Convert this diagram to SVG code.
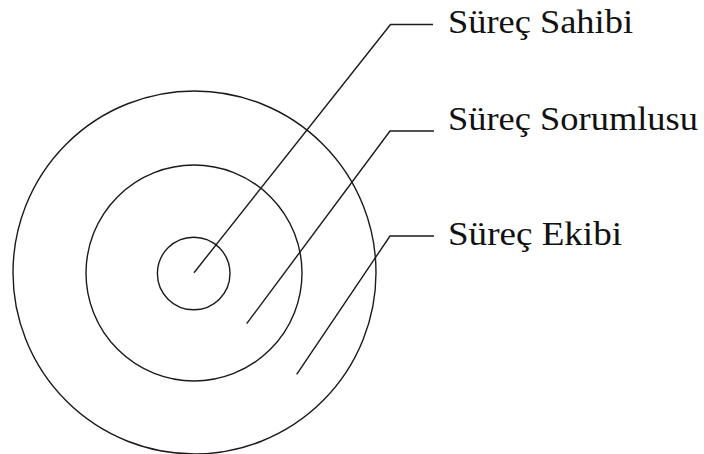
<svg xmlns="http://www.w3.org/2000/svg" width="704" height="454" viewBox="0 0 704 454">
<style>
.ring{fill:none;stroke:#1a1a1a;stroke-width:1.4}
.lead{fill:none;stroke:#1a1a1a;stroke-width:1.4}
.lbl{font-family:"Liberation Serif","Times New Roman",serif;font-size:34px;fill:#111}
</style>
<rect width="704" height="454" fill="#fff"/>
<g id="outer-circle"><circle class="ring" cx="194.5" cy="272.5" r="181.5"/></g>
<g id="middle-circle"><circle class="ring" cx="194" cy="273" r="108"/></g>
<g id="inner-circle"><circle class="ring" cx="193.7" cy="273.5" r="36.3"/></g>
<g id="connectors">
<polyline class="lead" points="194,272.7 390.5,24.5 433,24.5"/>
<polyline class="lead" points="246.7,323.7 390,131 434,131"/>
<polyline class="lead" points="296.7,374.3 390,236 434,236"/>
</g>
<g id="label-sahibi"><text class="lbl" x="448" y="33" textLength="185" lengthAdjust="spacingAndGlyphs">Süreç Sahibi</text></g>
<g id="label-sorumlusu"><text class="lbl" x="448" y="130" textLength="250" lengthAdjust="spacingAndGlyphs">Süreç Sorumlusu</text></g>
<g id="label-ekibi"><text class="lbl" x="448" y="245" textLength="174" lengthAdjust="spacingAndGlyphs">Süreç Ekibi</text></g>
</svg>
